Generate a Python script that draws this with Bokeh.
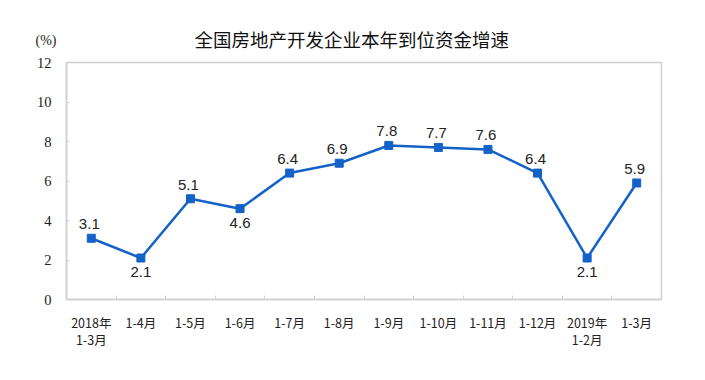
from bokeh.plotting import figure
from bokeh.models import FixedTicker, Range1d, Title, ColumnDataSource
from bokeh.core.properties import value
from bokeh.embed import file_html
from bokeh.resources import INLINE

categories = ["2018年\n1-3月", "1-4月", "1-5月", "1-6月", "1-7月", "1-8月", "1-9月",
              "1-10月", "1-11月", "1-12月", "2019年\n1-2月", "1-3月"]
growth = [3.1, 2.1, 5.1, 4.6, 6.4, 6.9, 7.8, 7.7, 7.6, 6.4, 2.1, 5.9]
y_ticks = [0, 2, 4, 6, 8, 10, 12]
title_text = "全国房地产开发企业本年到位资金增速"
unit_text = "(%)"

label_side = ["above", "below", "above", "below", "above", "above", "above",
              "above", "above", "above", "below", "above"]

BLUE = "#1462C8"
GRAY = "#cfcfcf"

xs = list(range(len(categories)))
p = figure(width=697, height=372, output_backend="svg", toolbar_location=None,
           x_range=Range1d(-0.5, len(categories) - 0.5), y_range=Range1d(0, 12),
           min_border_left=66, min_border_right=36, min_border_top=62, min_border_bottom=73)

p.title.text = title_text
p.title.align = "left"
p.title.offset = 128
p.title.standoff = -70
p.title.text_font = "Noto Sans CJK SC"
p.title.text_font_size = "18.5px"
p.title.text_font_style = "normal"
p.title.text_color = "#111111"

unit_title = Title(text=unit_text, align="left", offset=-31, standoff=29,
                   text_font="Liberation Serif", text_font_size="14px",
                   text_font_style="normal", text_color="#222222")
p.add_layout(unit_title, "above")

p.xgrid.visible = False
p.ygrid.visible = False
p.outline_line_color = GRAY
p.outline_line_width = 1.5

xa = p.xaxis[0]
xa.ticker = FixedTicker(ticks=xs, minor_ticks=[i + 0.5 for i in xs[:-1]])
xa.major_label_overrides = {i: c for i, c in enumerate(categories)}
xa.major_tick_line_color = None
xa.minor_tick_in = 4
xa.minor_tick_out = 0
xa.minor_tick_line_color = GRAY
xa.axis_line_color = GRAY
xa.axis_line_width = 1.5
xa.major_label_standoff = 7
xa.major_label_text_font = "Noto Sans CJK SC"
xa.major_label_text_font_size = "12.5px"
xa.major_label_text_line_height = 0.9
xa.major_label_text_color = "#222222"

ya = p.yaxis[0]
ya.ticker = FixedTicker(ticks=y_ticks)
ya.minor_tick_line_color = None
ya.major_tick_in = 3
ya.major_tick_out = 0
ya.major_tick_line_color = GRAY
ya.axis_line_color = GRAY
ya.axis_line_width = 1.5
ya.major_label_standoff = 15
ya.major_label_text_font = "Liberation Serif"
ya.major_label_text_font_size = "14.5px"
ya.major_label_text_color = "#222222"

src = ColumnDataSource(dict(x=xs, y=growth))
p.line("x", "y", source=src, line_color=BLUE, line_width=2.5)
p.scatter("x", "y", source=src, marker="square", size=8, fill_color=BLUE, line_color=BLUE)

above = ColumnDataSource(dict(
    x=[x for x, s in zip(xs, label_side) if s == "above"],
    y=[v for v, s in zip(growth, label_side) if s == "above"],
    t=[f"{v:.1f}" for v, s in zip(growth, label_side) if s == "above"]))
below = ColumnDataSource(dict(
    x=[x for x, s in zip(xs, label_side) if s == "below"],
    y=[v for v, s in zip(growth, label_side) if s == "below"],
    t=[f"{v:.1f}" for v, s in zip(growth, label_side) if s == "below"]))
p.text("x", "y", text="t", source=above, text_align="center", text_baseline="bottom",
       y_offset=-9, x_offset=-2, text_font=value("Liberation Sans"), text_font_size="15px",
       text_color="#222222")
p.text("x", "y", text="t", source=below, text_align="center", text_baseline="top",
       y_offset=9, x_offset=0, text_font=value("Liberation Sans"), text_font_size="15px",
       text_color="#222222")

open("out.html", "w").write(file_html(p, INLINE))
